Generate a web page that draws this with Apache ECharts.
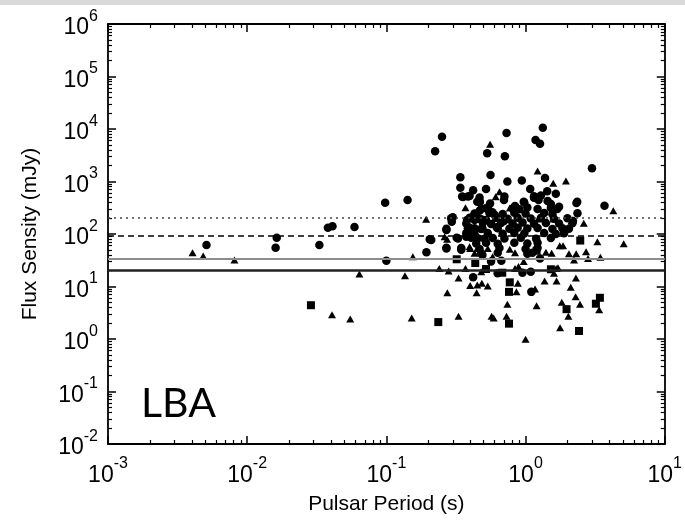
<!DOCTYPE html>
<html><head><meta charset="utf-8">
<script src="https://cdn.jsdelivr.net/npm/echarts@6/dist/echarts.min.js"></script>
<style>html,body{margin:0;padding:0;background:#fff}#c{width:685px;height:524px}</style>
</head><body><div id="c"></div>
<script>
// Pulsar period (s) vs flux density (mJy)
const circles = [
 [0.0051,62],[0.0163,85],[0.016,55],[0.033,62],[0.038,132],[0.041,140],[0.059,136],[0.098,395],[0.1,31],[0.142,445],
 [0.224,3760],[0.251,7130],[0.73,8400],[1.33,10600],[0.53,3440],[0.71,3020],[1.18,6170],[1.27,5250],[3.0,1780],
 [0.34,1200],[0.56,1330],[0.74,1000],[0.94,1050],[0.34,760],[0.42,680],[0.52,720],[0.35,520],[0.70,445],[0.30,208],[0.295,171],[0.27,119],
 [1.38,1170],[1.43,650],[1.65,586],[1.08,720],[1.15,522],[1.24,445],[0.97,412],[2.32,390],[3.69,346],[2.36,248],[1.52,373],[1.74,331],[0.84,341],[2.19,177],
 [0.205,79],[0.21,77],[0.32,85],[0.27,55],[0.194,45],[0.345,50],
 [0.385,520],[0.45,412],[0.47,405],[0.556,380],[0.467,278],[0.52,309],[0.545,287],[0.578,260],[0.60,230],[0.70,177],
 [0.38,185],[0.41,207],[0.43,185],[0.48,192],[0.52,185],[0.385,128],[0.43,128],[0.49,128],[0.62,134],
 [0.38,106],[0.43,119],[0.454,83],[0.375,89],
 [0.42,15],[0.49,40],[0.565,30],[0.63,17.8],[0.67,31],[0.95,18.3],[1.09,19],[1.1,7.9],[1.27,34],
 [0.355,505],[0.396,530],[0.467,498],[0.705,520],[1.15,490],[1.29,540],
 [0.467,420],[0.979,400],[1.44,425],[2.35,410],
 [0.48,300],[0.535,318],[0.807,305],[0.902,295],[1.03,320],[1.22,300],[1.52,312],[1.69,298],
 [0.43,245],[0.55,252],[0.685,240],[0.83,255],[1.0,246],[1.36,250],[1.56,238],
 [0.292,199],[0.396,205],[0.454,196],[0.614,202],[0.744,195],[0.877,205],[1.09,198],[1.29,203],[1.6,196],[2.0,200],
 [0.375,158],[0.493,163],[0.565,155],[0.667,162],[0.807,158],[0.952,165],[1.15,156],[1.4,162],[1.74,158],[2.17,160],
 [0.27,126],[0.396,131],[0.48,125],[0.631,129],[0.765,126],[0.877,132],[1.03,127],[1.22,130],[1.56,125],[1.84,129],[2.05,126],
 [0.375,103],[0.43,100],[0.535,105],[0.685,101],[0.83,104],[0.979,102],[1.36,105],[1.65,100],[1.89,103],
 [0.327,82],[0.407,85],[0.507,81],[0.581,84],[0.705,82],[0.925,85],[1.19,81],[1.52,84],
 [0.442,66],[0.52,68],[0.631,65],[0.83,68],[1.03,66],[1.22,68],
 [0.27,53],[0.345,54],[0.467,52],[0.649,54],[1.0,52],[1.22,54],
 [0.48,43],[0.631,44],[1.03,42],[1.12,44]
];
const triangles = [
 [0.00405,44],[0.00483,38],[0.0081,32],[0.0407,2.9],[0.055,2.4],[0.064,17.3],[0.136,16],[0.155,37],[0.152,2.5],[0.193,190],
 [0.24,22],[0.28,19.7],[0.274,7.6],[0.33,14.5],[0.33,2.7],[0.37,316],[0.37,22],[0.40,53],[0.40,10.4],[0.43,43],
 [0.445,7.6],[0.45,10.7],[0.48,19],[0.485,11.5],[0.535,10.2],[0.556,5100],[0.57,2.7],[0.59,2.5],[0.58,37],[0.65,640],
 [0.73,2.7],[0.74,4.6],[0.77,51],[0.77,313],[0.84,44],[0.84,22],[0.86,7.9],[0.88,11.5],[0.89,24],[0.97,30],
 [1.0,0.99],[1.17,9],[1.2,4.3],[1.22,1590],[1.37,12.7],[1.4,45],[1.54,43],[1.58,925],[1.59,193],[1.23,193],
 [1.6,17.8],[1.66,22],[1.67,12.7],[1.71,22.8],[1.76,60],[1.86,60],[1.77,1.64],[1.82,5.0],[1.95,1020],[2.03,2.7],
 [2.05,42],[2.11,9.7],[2.23,32],[2.29,6.4],[2.3,14.5],[2.31,42],[2.46,4.6],[2.72,46],[2.81,34],[3.28,71],
 [3.38,3.6],[3.45,36],[4.27,278],[5.07,65],[0.273,79],
 [0.61,513],[0.262,89],[0.396,57],[0.45,53],[0.535,53],[2.17,185],[2.62,160]
];
const squares = [
 [0.0287,4.4],[0.236,2.1],[0.32,33],[0.435,28],[0.52,21.5],[0.68,18.3],[0.76,7.9],[0.77,12],[0.76,1.96],[1.2,48],
 [1.52,21.3],[2.47,75],[1.97,3.7],[3.2,4.7],[3.42,6.1],[2.42,1.42]
];
// sensitivity levels (mJy)
const levelDotted = 200;
const levelDashed = 92;
const levelGray = 34;
const levelBlack = 20;
const xRange = [0.001, 10];
const yRange = [0.01, 1e6];
const axisTitleX = 'Pulsar Period (s)';
const axisTitleY = 'Flux Sensity (mJy)';
const panelLabel = 'LBA';

const FONT = "'Liberation Sans', Arial, sans-serif";
const fmt = v => { const e = Math.round(Math.log10(v)); return '{b|10}{s|' + e + '}'; };
const rich = {
  b: { fontSize: 23, fontFamily: FONT, color: '#000', verticalAlign: 'bottom', padding: [8, 0, 0, 0] },
  s: { fontSize: 16, fontFamily: FONT, color: '#000', verticalAlign: 'top' }
};
const lineStyleAxis = { color: '#000', width: 1.8 };
function mkX(pos, main) {
  return {
    type: 'log', logBase: 10, min: xRange[0], max: xRange[1], interval: 1, position: pos,
    axisLine: { show: true, onZero: false, lineStyle: lineStyleAxis },
    axisTick: { show: true, inside: true, length: 8, lineStyle: { color: '#000', width: 1.5 } },
    minorTick: { show: true, splitNumber: 9, length: 4, lineStyle: { color: '#000', width: 1.2 } },
    axisLabel: main ? { show: true, formatter: fmt, rich: rich, margin: 12 } : { show: false },
    splitLine: { show: false }, minorSplitLine: { show: false },
    name: main ? axisTitleX : '', nameLocation: 'middle', nameGap: 50,
    nameTextStyle: { fontSize: 21, fontFamily: FONT, color: '#000' }
  };
}
function mkY(pos, main) {
  return {
    type: 'log', logBase: 10, min: yRange[0], max: yRange[1], interval: 1, position: pos,
    axisLine: { show: true, onZero: false, lineStyle: lineStyleAxis },
    axisTick: { show: true, inside: true, length: 8, lineStyle: { color: '#000', width: 1.5 } },
    minorTick: { show: true, splitNumber: 9, length: 4, lineStyle: { color: '#000', width: 1.2 } },
    axisLabel: main ? { show: true, formatter: fmt, rich: rich, margin: 10 } : { show: false },
    splitLine: { show: false }, minorSplitLine: { show: false },
    name: main ? axisTitleY : '', nameLocation: 'middle', nameGap: 67, nameRotate: 90,
    nameTextStyle: { fontSize: 21, fontFamily: FONT, color: '#000' }
  };
}
const chart = echarts.init(document.getElementById('c'), null, { renderer: 'canvas' });
chart.setOption({
  animation: false,
  backgroundColor: '#fff',
  grid: { left: 108, right: 17, top: 24, bottom: 80, containLabel: false },
  xAxis: [mkX('bottom', true), mkX('top', false)],
  yAxis: [mkY('left', true), mkY('right', false)],
  graphic: [
    { type: 'rect', left: 0, top: 0, shape: { width: 685, height: 5 }, style: { fill: '#d9d9d9' }, silent: true },
    { type: 'text', left: 141, top: 383, style: { text: panelLabel, font: "41px Lato, 'Liberation Sans', sans-serif", fill: '#000' } }
  ],
  series: [
    { type: 'scatter', name: 'levels', data: [], xAxisIndex: 0, yAxisIndex: 0, silent: true,
      markLine: { symbol: 'none', silent: true, label: { show: false },
        data: [
          { yAxis: levelDotted, lineStyle: { type: [2, 4], color: '#444', width: 1.5 } },
          { yAxis: levelDashed, lineStyle: { type: [6, 4], color: '#000', width: 1.5 } },
          { yAxis: levelGray, lineStyle: { type: 'solid', color: '#8c8c8c', width: 2 } },
          { yAxis: levelBlack, lineStyle: { type: 'solid', color: '#222', width: 2.5 } }
        ] } },
    { type: 'scatter', name: 'circles', data: circles, symbol: 'circle', symbolSize: 8.5, itemStyle: { color: '#000', opacity: 1 } },
    { type: 'scatter', name: 'triangles', data: triangles, symbol: 'triangle', symbolSize: [8, 7], itemStyle: { color: '#000', opacity: 1 } },
    { type: 'scatter', name: 'squares', data: squares, symbol: 'rect', symbolSize: 8, itemStyle: { color: '#000', opacity: 1 } }
  ]
});
</script></body></html>
